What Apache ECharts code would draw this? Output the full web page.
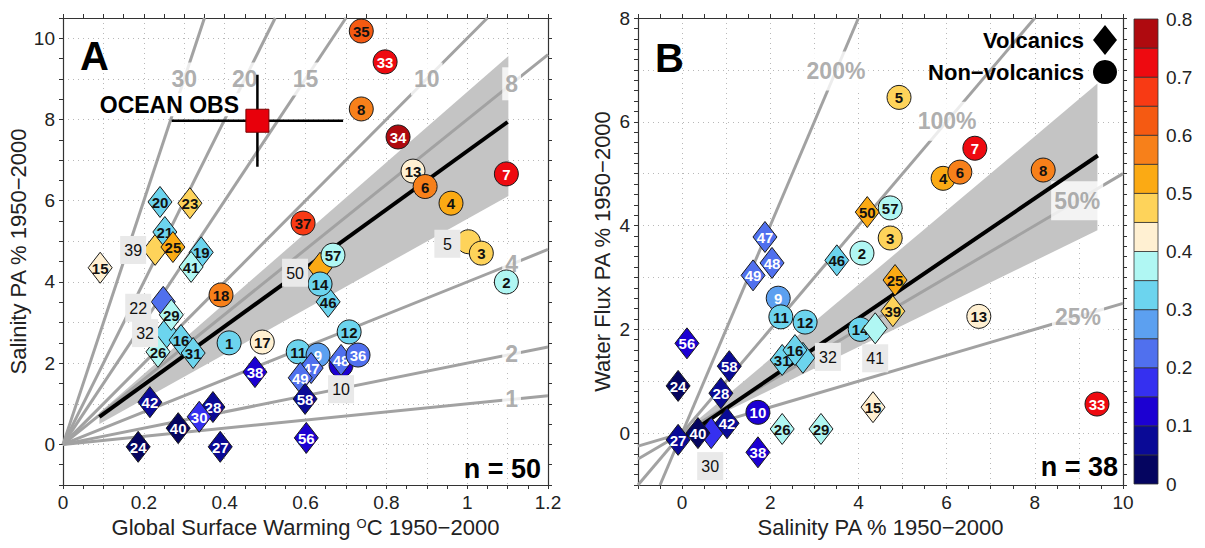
<!DOCTYPE html>
<html>
<head>
<meta charset="utf-8">
<title>Pattern amplification: salinity and water flux</title>
<script src="https://cdn.jsdelivr.net/npm/echarts@6/dist/echarts.min.js"></script>
<style>
html,body{margin:0;padding:0;background:#ffffff;}
#chart{width:1205px;height:548px;}
</style>
</head>
<body>
<div id="chart"></div>
<script>
// ---------------- DATA ----------------
// colour classes (colour bar)
const classEdges = [0, 0.05, 0.1, 0.15, 0.2, 0.25, 0.3, 0.35, 0.4, 0.45, 0.5, 0.55, 0.6, 0.65, 0.7, 0.75, 0.8];
const classColors = ['#050560', '#0A0A96', '#1C00D2', '#3530F0', '#5070EE', '#5CA0F0', '#6CD4EE', '#B0F7F3',
                     '#FFF0D2', '#FED35A', '#FBAA14', '#F7801A', '#F55A12', '#F83A14', '#EE0A10', '#AF0A0F'];

// model attributes: colour variable and forcing type
const modelIds   = [1, 2, 3, 4, 5, 6, 7, 8, 9, 10, 11, 12, 13, 14, 15, 16, 17, 18, 19, 20, 21, 22, 23, 24, 25,
                    26, 27, 28, 29, 30, 31, 32, 33, 34, 35, 36, 37, 38, 39, 40, 41, 42, 46, 47, 48, 49, 50, 56, 57, 58];
const modelValue = [0.33, 0.37, 0.48, 0.53, 0.47, 0.58, 0.72, 0.58, 0.26, 0.13,
                    0.33, 0.34, 0.43, 0.33, 0.42, 0.32, 0.43, 0.58, 0.31, 0.31,
                    0.33, 0.23, 0.47, 0.03, 0.53, 0.37, 0.06, 0.08, 0.37, 0.17,
                    0.31, 0.33, 0.72, 0.77, 0.62, 0.22, 0.67, 0.13, 0.47, 0.04,
                    0.37, 0.07, 0.33, 0.22, 0.21, 0.22, 0.53, 0.13, 0.37, 0.07];
const volcanicIds = [15, 16, 19, 20, 21, 22, 23, 24, 25, 26, 27, 28, 29, 30, 31, 32, 38, 39, 40, 41, 42,
                     46, 47, 48, 49, 50, 56, 58];

// Panel A: global surface warming (degC) vs salinity PA (%), in drawing order
const idsA  = [35, 33, 8, 34, 13, 6, 4, 7, 37, 5, 3, 2, 50, 57, 46, 14, 12, 10, 48, 36, 11, 9, 47, 49, 58, 56,
               1, 17, 18, 38, 42, 28, 30, 40, 24, 27, 15, 39, 21, 25, 20, 23, 19, 41, 22, 32, 29, 26, 16, 31];
const warmA = [0.738, 0.797, 0.738, 0.829, 0.866, 0.896, 0.960, 1.097, 0.594, 1.003, 1.035, 1.097, 0.636, 0.668,
               0.656, 0.636, 0.708, 0.688, 0.688, 0.730, 0.582, 0.631, 0.614, 0.587, 0.599, 0.602,
               0.411, 0.493, 0.391, 0.475, 0.215, 0.371, 0.337, 0.285, 0.186, 0.389, 0.092, 0.228, 0.252,
               0.272, 0.240, 0.314, 0.342, 0.317, 0.248, 0.255, 0.268, 0.235, 0.292, 0.322];
const salA  = [10.18, 9.42, 8.26, 7.57, 6.73, 6.35, 5.94, 6.66, 5.45, 4.99, 4.71, 4.00, 4.35, 4.66,
               3.51, 3.95, 2.77, 1.95, 2.08, 2.20, 2.28, 2.20, 1.88, 1.64, 1.12, 0.16,
               2.50, 2.52, 3.68, 1.78, 1.04, 0.92, 0.68, 0.40, -0.06, -0.06, 4.35, 4.79, 5.23,
               4.86, 5.97, 5.94, 4.73, 4.37, 3.51, 2.74, 3.19, 2.28, 2.57, 2.25];
const hiddenA = [39, 22, 32, 50, 5, 10];

// Panel B: salinity PA (%) vs water flux PA (%), in drawing order
const idsB  = [5, 7, 4, 6, 8, 50, 57, 3, 46, 2, 47, 49, 48, 9, 11, 12, 14, 41, 25, 39, 13, 15, 33,
               32, 31, 16, 56, 58, 24, 28, 10, 26, 29, 27, 30, 40, 42, 38];
const salB  = [4.92, 6.64, 5.92, 6.30, 8.19, 4.20, 4.72, 4.72, 3.51, 4.08, 1.88, 1.61, 2.04, 2.18, 2.24, 2.79,
               4.04, 4.38, 4.83, 4.78, 6.73, 4.33, 9.41, 2.74, 2.27, 2.56, 0.11, 1.07, -0.09, 0.88, 1.72,
               2.27, 3.15, -0.09, 0.66, 0.36, 1.02, 1.72];
const fluxB = [6.47, 5.49, 4.91, 5.03, 5.07, 4.26, 4.34, 3.76, 3.33, 3.47, 3.78, 3.04, 3.28, 2.60, 2.24, 2.14,
               2.00, 2.02, 2.95, 2.35, 2.25, 0.50, 0.56, 1.45, 1.41, 1.60, 1.73, 1.29, 0.91, 0.77, 0.40,
               0.08, 0.08, -0.13, 0.00, 0.00, 0.19, -0.37];
const hiddenB = [41, 32, 30];

// reference ratio lines
const slopesA = [1, 2, 4, 8, 10, 15, 20, 30];
const slopeNamesA = ['1', '2', '4', '8', '10', '15', '20', '30'];
const slopesB = [0.25, 0.5, 1, 2];
const slopeNamesB = ['25%', '50%', '100%', '200%'];

// fits [intercept, slope] and envelopes [lower slope, upper slope]
const fitA = [0.03, 7.19];
const fitSpanA = [0.09, 1.10];
const bandA = [5.55, 8.68];
const bandSpanA = [0.09, 1.102];
const fitB = [-0.10, 0.578];
const fitSpanB = [-0.05, 9.43];
const bandB = [0.415, 0.715];
const bandSpanB = [0, 9.42];

// ocean observations (panel A)
const obsA = [0.481, 7.97];
const obsErrA = [0.212, 1.13];

// ---------------- LAYOUT / STYLE ----------------
const FONT = 'Liberation Sans';
const rangeA = {x: [0, 1.2], y: [-1, 10.5]};
const rangeB = {x: [-1, 10], y: [-1, 8]};
const lineLabelXB = [8.98, 8.96, 6.01, 3.49];
const hiddenOffsetA = {39: [-22, 0], 22: [-25, 6], 32: [-21, 0], 50: [-25, 5], 5: [-21, 2], 10: [0, 24]};
const hiddenOffsetB = {41: [0, 30], 32: [25, -1], 30: [-1, 33]};

function valueOf(id) { return modelValue[modelIds.indexOf(id)]; }
function colourFor(v) {
  for (let i = 0; i < classColors.length; i++) {
    if (v >= classEdges[i] && v < classEdges[i + 1]) return classColors[i];
  }
  return classColors[classColors.length - 1];
}
function textFor(v) { return (v < 0.27 || v >= 0.7) ? '#ffffff' : '#111111'; }
function isEvenInt(v) { const r = Math.round(v); return Math.abs(v - r) < 1e-6 && r % 2 === 0; }

function segThroughOrigin(s, r) {
  const xa = Math.max(r.x[0], r.y[0] / s), xb = Math.min(r.x[1], r.y[1] / s);
  return [[xa, s * xa], [xb, s * xb]];
}

const tickStyle = {color: '#333', width: 1};
function frameAxis(gridIndex, position, r, interval, minorN) {
  return {
    type: 'value', gridIndex, position, min: r[0], max: r[1], interval,
    axisLine: {show: true, onZero: false, lineStyle: {color: '#333', width: 1.2}},
    axisTick: {show: true, inside: false, length: 4, lineStyle: tickStyle},
    minorTick: {show: true, splitNumber: minorN, length: 4, lineStyle: tickStyle},
    axisLabel: {show: false},
    splitLine: {show: false}
  };
}
const gridDots = {show: true, lineStyle: {color: '#B8B8B8', width: 1, type: [1, 4]}};
const tickLabel = {fontSize: 19, color: '#222', fontFamily: FONT, margin: 8};
const titleStyle = {fontSize: 22, color: '#222', fontFamily: FONT};

function withLabels(ax, formatter, name, gap, extraName) {
  ax.axisLabel = Object.assign({show: true, formatter}, tickLabel);
  ax.splitLine = gridDots;
  ax.name = name;
  ax.nameLocation = 'middle';
  ax.nameGap = gap;
  ax.nameTextStyle = Object.assign({}, titleStyle, extraName || {});
  return ax;
}

const fmtAx = v => { const k = Math.round(v * 10); if (Math.abs(v * 10 - k) > 1e-6 || k % 2 !== 0) return ''; return String(+(k / 10).toFixed(1)); };
const fmtEven = v => (isEvenInt(v) && v >= 0) ? String(Math.round(v)) : '';

const xAxes = [
  withLabels(frameAxis(0, 'bottom', rangeA.x, 0.1, 2), fmtAx,
    'Global Surface Warming {s|O}C 1950\u22122000', 30,
    {rich: {s: {fontSize: 13, verticalAlign: 'top', color: '#222', fontFamily: FONT}}}),
  frameAxis(0, 'top', rangeA.x, 0.1, 2),
  withLabels(frameAxis(1, 'bottom', rangeB.x, 1, 2), fmtEven, 'Salinity PA % 1950\u22122000', 30),
  frameAxis(1, 'top', rangeB.x, 1, 2),
  {type: 'value', gridIndex: 2, min: 0, max: 1, show: false}
];
const yAxes = [
  withLabels(frameAxis(0, 'left', rangeA.y, 1, 2), fmtEven, 'Salinity PA % 1950\u22122000', 31),
  frameAxis(0, 'right', rangeA.y, 1, 2),
  withLabels(frameAxis(1, 'left', rangeB.y, 1, 5), fmtEven, 'Water Flux PA % 1950\u22122000', 25),
  frameAxis(1, 'right', rangeB.y, 1, 5),
  {type: 'value', gridIndex: 2, min: 0, max: 0.8, interval: 0.1, position: 'right',
   axisLine: {show: false}, axisTick: {show: false}, splitLine: {show: false},
   axisLabel: Object.assign({formatter: v => v < 1e-9 ? '0' : v.toFixed(1)}, tickLabel)}
];

function bandSeries(axisIdx, slopes, span) {
  return {
    type: 'custom', xAxisIndex: axisIdx, yAxisIndex: axisIdx, z: 1, silent: true,
    data: [span],
    renderItem: (params, api) => {
      const x0 = api.value(0), x1 = api.value(1);
      const pts = [[x0, slopes[0] * x0], [x1, slopes[0] * x1], [x1, slopes[1] * x1], [x0, slopes[1] * x0]]
        .map(p => api.coord(p));
      return {type: 'polygon', shape: {points: pts}, style: {fill: '#C4C4C4'}};
    }
  };
}
function refLines(axisIdx, slopes, r) {
  return slopes.map(s => ({
    type: 'line', xAxisIndex: axisIdx, yAxisIndex: axisIdx, z: 2, silent: true,
    symbol: 'none', data: segThroughOrigin(s, r),
    lineStyle: {color: '#A2A2A2', width: 3}
  }));
}
function refLabels(axisIdx, slopes, names, xs, pad) {
  return {
    type: 'scatter', xAxisIndex: axisIdx, yAxisIndex: axisIdx, z: 3, silent: true,
    symbolSize: 1, itemStyle: {color: 'rgba(0,0,0,0)'},
    data: slopes.map((s, i) => ({name: names[i], value: [xs[i], s * xs[i]]})),
    label: {show: true, position: 'inside', formatter: '{b}', color: '#999999', fontSize: 23,
            fontWeight: 'bold', fontFamily: FONT, backgroundColor: '#ffffff', padding: pad}
  };
}
function fitSeries(axisIdx, fit, span) {
  return {
    type: 'line', xAxisIndex: axisIdx, yAxisIndex: axisIdx, z: 4, silent: true, symbol: 'none',
    data: span.map(x => [x, fit[0] + fit[1] * x]),
    lineStyle: {color: '#000', width: 4}
  };
}
function markerSeries(axisIdx, ids, xs, ys, hidden, offsets) {
  return {
    type: 'custom', xAxisIndex: axisIdx, yAxisIndex: axisIdx, z: 6, silent: true,
    data: ids.map((id, i) => [xs[i], ys[i], id]),
    renderItem: (params, api) => {
      const id = api.value(2), i = params.dataIndex;
      const p = api.coord([api.value(0), api.value(1)]);
      const v = valueOf(id);
      const style = {fill: colourFor(v), stroke: '#1a1a1a', lineWidth: 1};
      const children = [];
      if (volcanicIds.indexOf(id) >= 0) {
        children.push({type: 'polygon', z2: 2 * i, style,
          shape: {points: [[p[0], p[1] - 15.5], [p[0] + 12, p[1]], [p[0], p[1] + 15.5], [p[0] - 12, p[1]]]}});
      } else {
        children.push({type: 'circle', z2: 2 * i, style, shape: {cx: p[0], cy: p[1], r: 12}});
      }
      if (hidden.indexOf(id) < 0) {
        children.push({type: 'text', z2: 2 * i + 1, x: p[0], y: p[1] + 0.5,
          style: {text: String(id), fill: textFor(v), font: 'bold 15px "' + FONT + '"',
                  textAlign: 'center', textVerticalAlign: 'middle'}});
      } else {
        const o = offsets[id];
        children.push({type: 'rect', z2: 5000 + 2 * i,
          shape: {x: p[0] + o[0] - 13, y: p[1] + o[1] - 14, width: 26, height: 28},
          style: {fill: '#E9E9E9'}});
        children.push({type: 'text', z2: 5001 + 2 * i, x: p[0] + o[0], y: p[1] + o[1] + 0.5,
          style: {text: String(id), fill: '#111', font: '16px "' + FONT + '"',
                  textAlign: 'center', textVerticalAlign: 'middle'}});
      }
      return {type: 'group', children};
    }
  };
}

const series = [
  bandSeries(0, bandA, bandSpanA),
  ...refLines(0, slopesA, rangeA),
  refLabels(0, slopesA, slopeNamesA, slopesA.map(s => s <= 8 ? 1.11 : 9.0 / s), [5, 3]),
  fitSeries(0, fitA, fitSpanA),
  {type: 'line', xAxisIndex: 0, yAxisIndex: 0, z: 5, silent: true, symbol: 'none',
   data: [[obsA[0] - obsErrA[0], obsA[1]], [obsA[0] + obsErrA[0], obsA[1]]], lineStyle: {color: '#000', width: 2.5}},
  {type: 'line', xAxisIndex: 0, yAxisIndex: 0, z: 5, silent: true, symbol: 'none',
   data: [[obsA[0], obsA[1] - obsErrA[1]], [obsA[0], obsA[1] + obsErrA[1]]], lineStyle: {color: '#000', width: 2.5}},
  markerSeries(0, idsA, warmA, salA, hiddenA, hiddenOffsetA),
  {type: 'scatter', xAxisIndex: 0, yAxisIndex: 0, z: 7, silent: true,
   symbol: 'rect', symbolSize: 23, data: [obsA],
   itemStyle: {color: '#E8000B', borderColor: '#7a0000', borderWidth: 1, opacity: 1},
   label: {show: true, position: 'inside', formatter: 'OCEAN OBS', offset: [-88, -16], color: '#000',
           fontSize: 23, fontWeight: 'bold', fontFamily: FONT, backgroundColor: '#ffffff', padding: [0, 3]}},

  bandSeries(2, bandB, bandSpanB),
  ...refLines(2, slopesB, rangeB),
  refLabels(2, slopesB, slopeNamesB, lineLabelXB, [8, 3]),
  fitSeries(2, fitB, fitSpanB),
  markerSeries(2, idsB, salB, fluxB, hiddenB, hiddenOffsetB),

  {type: 'custom', xAxisIndex: 4, yAxisIndex: 4, z: 2, silent: true,
   data: classColors.map((c, i) => [classEdges[i], classEdges[i + 1]]),
   renderItem: (params, api) => {
     const a = api.coord([0, api.value(0)]), b = api.coord([1, api.value(1)]);
     return {type: 'rect', shape: {x: a[0], y: b[1], width: b[0] - a[0], height: a[1] - b[1]},
             style: {fill: classColors[params.dataIndex], stroke: '#333', lineWidth: 0.8}};
   }}
];

const option = {
  animation: false,
  backgroundColor: '#ffffff',
  textStyle: {fontFamily: FONT},
  grid: [
    {left: 63, top: 18, width: 485, height: 467},
    {left: 638, top: 18, width: 485, height: 467},
    {left: 1134, top: 19, width: 24, height: 465}
  ],
  xAxis: xAxes,
  yAxis: yAxes,
  series,
  graphic: [
    {type: 'text', z: 100, x: 80, y: 56, silent: true, style: {text: 'A', fill: '#000', font: 'bold 40px "' + FONT + '"', textVerticalAlign: 'middle'}},
    {type: 'text', z: 100, x: 655, y: 58, silent: true, style: {text: 'B', fill: '#000', font: 'bold 40px "' + FONT + '"', textVerticalAlign: 'middle'}},
    {type: 'text', z: 100, x: 541, y: 469, silent: true, style: {text: 'n = 50', fill: '#000', font: 'bold 27px "' + FONT + '"', textAlign: 'right', textVerticalAlign: 'middle'}},
    {type: 'text', z: 100, x: 1118, y: 467, silent: true, style: {text: 'n = 38', fill: '#000', font: 'bold 27px "' + FONT + '"', textAlign: 'right', textVerticalAlign: 'middle'}},
    {type: 'text', z: 100, x: 1084, y: 40, silent: true, style: {text: 'Volcanics', fill: '#000', font: 'bold 22px "' + FONT + '"', textAlign: 'right', textVerticalAlign: 'middle'}},
    {type: 'text', z: 100, x: 1084, y: 72, silent: true, style: {text: 'Non\u2212volcanics', fill: '#000', font: 'bold 22px "' + FONT + '"', textAlign: 'right', textVerticalAlign: 'middle'}},
    {type: 'polygon', z: 100, silent: true, shape: {points: [[1105, 25], [1117, 40], [1105, 55], [1093, 40]]}, style: {fill: '#000', stroke: 'none'}},
    {type: 'circle', z: 100, silent: true, shape: {cx: 1105, cy: 72, r: 12}, style: {fill: '#000', stroke: 'none'}}
  ]
};

const chart = echarts.init(document.getElementById('chart'), null, {renderer: 'svg', width: 1205, height: 548});
chart.setOption(option);
</script>
</body>
</html>
